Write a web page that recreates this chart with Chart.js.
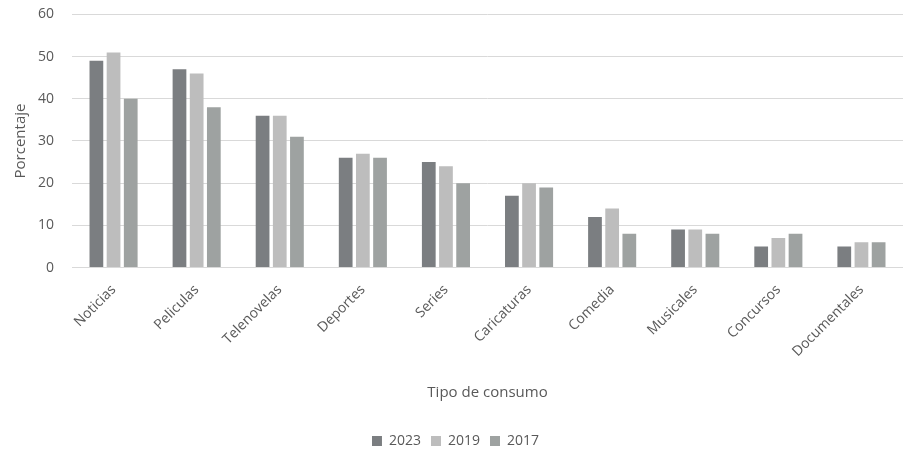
<!DOCTYPE html>
<html>
<head>
<meta charset="utf-8">
<script src="https://cdn.jsdelivr.net/npm/chart.js@4"></script>
<style>
html,body{margin:0;padding:0;background:#fff;}
#wrap{width:903px;height:455px;position:relative;}
</style>
</head>
<body>
<div id="wrap"><canvas id="c" width="903" height="455"></canvas></div>
<script>
const categories = ["Noticias","Peliculas","Telenovelas","Deportes","Series","Caricaturas","Comedia","Musicales","Concursos","Documentales"];
const values2023 = [49,47,36,26,25,17,12,9,5,5];
const values2019 = [51,46,36,27,24,20,14,9,7,6];
const values2017 = [40,38,31,26,20,19,8,8,8,6];
const yTicks = [0,10,20,30,40,50,60];

const fontFam = "'Open Sans', 'Liberation Sans', sans-serif";
new Chart(document.getElementById('c'), {
  type: 'bar',
  data: {
    labels: categories,
    datasets: [
      {label:'2023', data: values2023, backgroundColor:'#7b7e81'},
      {label:'2019', data: values2019, backgroundColor:'#bdbdbd'},
      {label:'2017', data: values2017, backgroundColor:'#9ea2a1'}
    ]
  },
  options: {
    responsive:false,
    animation:false,
    layout:{padding:{top:0,right:0,left:8,bottom:-3}},
    datasets:{bar:{categoryPercentage:0.62, barPercentage:0.8}},
    plugins:{
      legend:{position:'bottom', labels:{boxWidth:10, boxHeight:10, padding:10, color:'#595959', font:{family:fontFam, size:14}}},
      tooltip:{enabled:false}
    },
    scales:{
      x:{
        grid:{display:false, drawTicks:false},
        border:{color:'#d9d9d9'},
        ticks:{maxRotation:45, minRotation:45, color:'#595959', font:{family:fontFam, size:14}, padding:14},
        title:{display:true, text:'Tipo de consumo', color:'#595959', font:{family:fontFam, size:15}, padding:{top:10,bottom:22}}
      },
      y:{
        min:0, max:60,
        afterBuildTicks: s => { s.ticks = yTicks.map(v=>({value:v})); },
        grid:{color:'#d9d9d9', drawTicks:true, tickLength:12, tickColor:'rgba(0,0,0,0)'},
        border:{display:false},
        ticks:{color:'#595959', font:{family:fontFam, size:14}, padding:6},
        title:{display:true, text:'Porcentaje', color:'#595959', font:{family:fontFam, size:15}, padding:{bottom:2}}
      }
    }
  }
});
</script>
</body>
</html>
